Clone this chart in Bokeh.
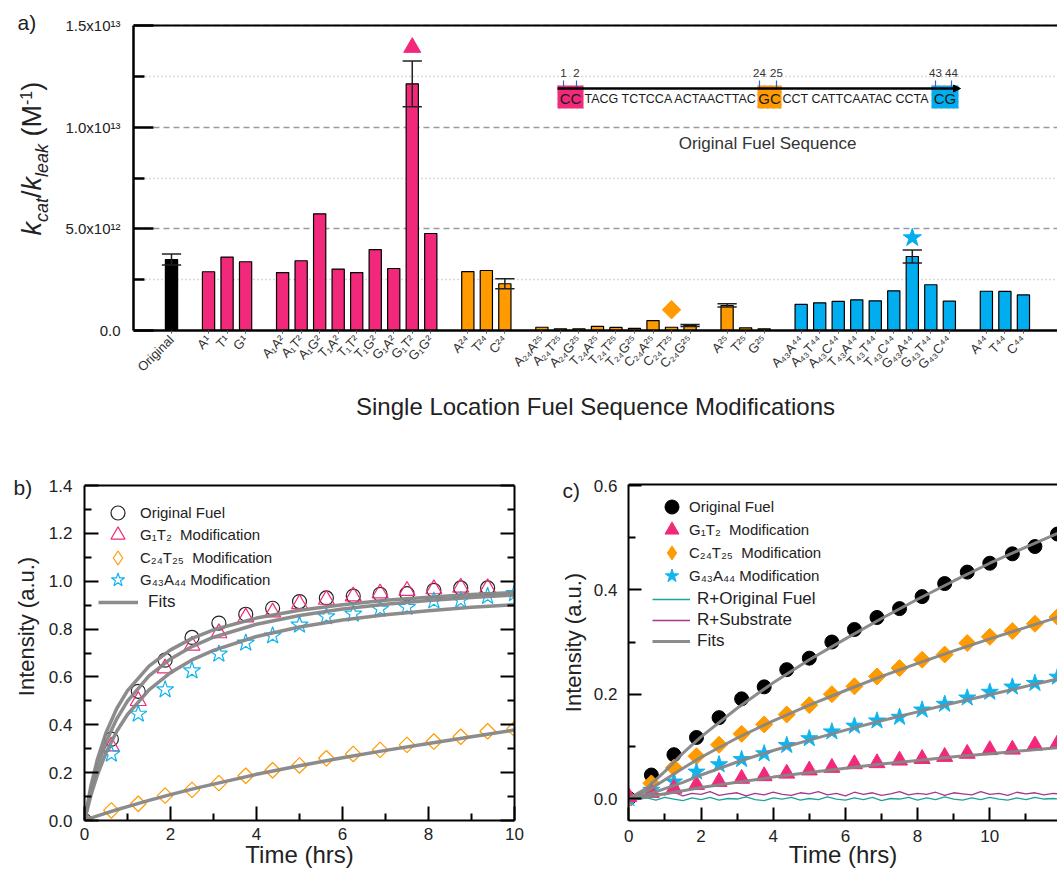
import math
from bokeh.plotting import figure
from bokeh.models import (Range1d, FixedTicker, LinearAxis, Label, Legend, LegendItem, Span,
                          ColumnDataSource, Arrow, NormalHead, BoxAnnotation, NumeralTickFormatter)
from bokeh.layouts import column, row
from bokeh.embed import file_html
from bokeh.resources import INLINE

FONT = "Liberation Sans"
TXT = "#222222"
PINK = "#F2297B"
ORANGE = "#FF9B00"
BLUE = "#00AEEF"
CYAN = "#12B4EE"
TEAL = "#1BA39C"
PURPLE = "#A23795"
GRAY = "#868686"
NAN = float("nan")

# ------------------------------------------------------------------ panel a data (values in 1e12 M^-1)
orig_labels = ["Original"]
orig_vals = [3.49]
g1_labels = ["A¹", "T¹", "G¹"]
g1_vals = [2.89, 3.61, 3.38]
g12_labels = ["A₁A²", "A₁T²", "A₁G²", "T₁A²", "T₁T²", "T₁G²", "G₁A²", "G₁T²", "G₁G²"]
g12_vals = [2.85, 3.43, 5.74, 3.02, 2.85, 3.98, 3.05, 12.13, 4.77]
g24_labels = ["A²⁴", "T²⁴", "C²⁴"]
g24_vals = [2.90, 2.95, 2.30]
g2425_labels = ["A₂₄A²⁵", "A₂₄T²⁵", "A₂₄G²⁵", "T₂₄A²⁵", "T₂₄T²⁵", "T₂₄G²⁵", "C₂₄A²⁵", "C₂₄T²⁵", "C₂₄G²⁵"]
g2425_vals = [0.16, 0.08, 0.08, 0.20, 0.15, 0.10, 0.49, 0.16, 0.25]
g25_labels = ["A²⁵", "T²⁵", "G²⁵"]
g25_vals = [1.23, 0.13, 0.08]
g4344_labels = ["A₄₃A⁴⁴", "A₄₃T⁴⁴", "A₄₃C⁴⁴", "T₄₃A⁴⁴", "T₄₃T⁴⁴", "T₄₃C⁴⁴", "G₄₃A⁴⁴", "G₄₃T⁴⁴", "G₄₃C⁴⁴"]
g4344_vals = [1.28, 1.36, 1.43, 1.51, 1.46, 1.95, 3.64, 2.25, 1.44]
g44_labels = ["A⁴⁴", "T⁴⁴", "C⁴⁴"]
g44_vals = [1.93, 1.92, 1.75]

err_labels = ["Original", "G₁T²", "C²⁴", "C₂₄G²⁵", "A²⁵", "G₄₃A⁴⁴"]
err_sizes = [0.27, 1.13, 0.25, 0.05, 0.08, 0.32]

hl_labels = ["G₁T²", "C₂₄T²⁵", "G₄₃A⁴⁴"]
hl_y = [13.92, 1.02, 4.56]

a_yticks = [0, 5, 10, 15]
a_yminor = [2.5, 7.5, 12.5]
a_ytick_text = ["0.0", "5.0x10¹²", "1.0x10¹³", "1.5x10¹³"]

seq_pieces = ["CC", "TACG TCTCCA ACTAACTTAC", "GC", "CCT CATTCAATAC CCTA", "CG"]
seq_numbers = ["1", "2", "24", "25", "43", "44"]

# ------------------------------------------------------------------ panel b data
t_b = [0, 0.625, 1.25, 1.875, 2.5, 3.125, 3.75, 4.375, 5.0, 5.625, 6.25, 6.875, 7.5, 8.125, 8.75, 9.375, 10.0]
b_orig = [0, 0.34, 0.54, 0.67, 0.765, 0.825, 0.862, 0.887, 0.915, 0.930, 0.938, 0.945, 0.948, 0.962, 0.972, 0.972]
b_g1t2 = [0, 0.31, 0.50, 0.636, 0.731, 0.783, 0.849, 0.870, 0.905, 0.923, 0.937, 0.950, 0.960, 0.967, 0.974, 0.971]
b_c24t25 = [0, 0.042, 0.07, 0.104, 0.128, 0.156, 0.187, 0.21, 0.23, 0.26, 0.278, 0.295, 0.316, 0.33, 0.35, 0.373, 0.383]
b_g43a44 = [0, 0.278, 0.445, 0.547, 0.626, 0.696, 0.742, 0.772, 0.817, 0.852, 0.863, 0.884, 0.891, 0.918, 0.921, 0.937, 0.949]

fit_t_b = [0, 0.15, 0.3, 0.5, 0.75, 1, 1.5, 2, 2.5, 3, 4, 5, 6, 7, 8, 9, 10]
fit_b_orig = [0, 0.146, 0.256, 0.367, 0.468, 0.543, 0.645, 0.713, 0.761, 0.797, 0.846, 0.879, 0.902, 0.920, 0.933, 0.944, 0.953]
fit_b_g1t2 = [0, 0.126, 0.225, 0.328, 0.425, 0.499, 0.604, 0.675, 0.727, 0.766, 0.820, 0.857, 0.884, 0.904, 0.919, 0.932, 0.942]
fit_b_g43a44 = [0, 0.106, 0.191, 0.283, 0.373, 0.443, 0.546, 0.618, 0.671, 0.711, 0.769, 0.809, 0.838, 0.860, 0.877, 0.891, 0.902]
fit_b_c24t25 = [0, 0.010, 0.019, 0.031, 0.045, 0.058, 0.084, 0.108, 0.131, 0.152, 0.193, 0.229, 0.262, 0.293, 0.322, 0.350, 0.378]

# ------------------------------------------------------------------ panel c data
t_c = [0, 0.625, 1.25, 1.875, 2.5, 3.125, 3.75, 4.375, 5.0, 5.625, 6.25, 6.875, 7.5, 8.125, 8.75,
       9.375, 10.0, 10.625, 11.25, 11.875]
c_orig = [0, 0.045, 0.084, 0.117, 0.155, 0.191, 0.214, 0.247, 0.269, 0.300, 0.324, 0.347, 0.364, 0.387,
          0.412, 0.434, 0.451, 0.469, 0.483, 0.507]
c_c24t25 = [0, 0.029, 0.059, 0.081, 0.103, 0.124, 0.142, 0.161, 0.179, 0.200, 0.215, 0.234, 0.250, 0.266,
            0.276, 0.298, 0.310, 0.321, 0.335, 0.348]
c_g43a44 = [0, 0.016, 0.032, 0.051, 0.065, 0.075, 0.086, 0.102, 0.115, 0.128, 0.139, 0.149, 0.156, 0.170,
            0.181, 0.193, 0.204, 0.214, 0.221, 0.233]
c_g1t2 = [0.003, 0.011, 0.019, 0.026, 0.032, 0.038, 0.043, 0.048, 0.054, 0.059, 0.066, 0.068, 0.073, 0.076,
          0.080, 0.086, 0.093, 0.094, 0.102, 0.105]

fit_t_c = [0, 0.5, 1, 1.5, 2, 3, 4, 5, 6, 7, 8, 9, 10, 11, 12]
fit_c_orig = [0, 0.020, 0.052, 0.087, 0.118, 0.173, 0.222, 0.266, 0.306, 0.345, 0.382, 0.417, 0.451, 0.482, 0.512]
fit_c_c24t25 = [0, 0.014, 0.036, 0.058, 0.079, 0.116, 0.149, 0.179, 0.207, 0.234, 0.259, 0.283, 0.306, 0.328, 0.350]
fit_c_g43a44 = [0, 0.007, 0.019, 0.031, 0.045, 0.070, 0.092, 0.112, 0.131, 0.149, 0.166, 0.183, 0.199, 0.215, 0.231]
fit_c_g1t2 = [0, 0.003, 0.009, 0.015, 0.021, 0.031, 0.041, 0.050, 0.058, 0.066, 0.073, 0.080, 0.086, 0.092, 0.098]

noise_t = [0, 0.25, 0.5, 0.75, 1, 1.25, 1.5, 1.75, 2, 2.25, 2.5, 2.75, 3, 3.25, 3.5, 3.75, 4, 4.25, 4.5, 4.75,
           5, 5.25, 5.5, 5.75, 6, 6.25, 6.5, 6.75, 7, 7.25, 7.5, 7.75, 8, 8.25, 8.5, 8.75, 9, 9.25, 9.5, 9.75,
           10, 10.25, 10.5, 10.75, 11, 11.25, 11.5, 11.75, 12]
noise_r_fuel = [0.000, -0.002, 0.001, -0.003, 0.002, -0.001, -0.004, 0.001, -0.002, 0.002, -0.003, 0.000, -0.001,
                0.003, -0.002, -0.004, 0.001, -0.001, 0.002, -0.003, 0.000, -0.002, 0.003, -0.001, -0.003, 0.001,
                -0.002, 0.002, -0.004, 0.000, -0.001, 0.002, -0.003, 0.001, -0.002, 0.003, -0.001, -0.003, 0.001,
                -0.002, 0.002, -0.001, -0.003, 0.001, -0.002, 0.002, -0.001, 0.000, -0.002]
noise_r_sub = [0.004, 0.009, 0.006, 0.011, 0.007, 0.012, 0.005, 0.010, 0.008, 0.013, 0.006, 0.009, 0.011, 0.005,
               0.010, 0.007, 0.012, 0.008, 0.006, 0.011, 0.009, 0.013, 0.007, 0.010, 0.005, 0.012, 0.008, 0.011,
               0.006, 0.009, 0.013, 0.007, 0.010, 0.008, 0.012, 0.006, 0.011, 0.009, 0.007, 0.013, 0.008, 0.010,
               0.006, 0.012, 0.009, 0.011, 0.007, 0.010, 0.008]


def style_axis(ax, width=2.5):
    ax.axis_line_width = width
    ax.axis_line_color = "black"
    ax.major_tick_line_width = width
    ax.minor_tick_line_width = width
    ax.major_tick_line_color = "black"
    ax.minor_tick_line_color = "black"
    ax.major_label_text_font = FONT
    ax.major_label_text_color = TXT
    ax.axis_label_text_font = FONT
    ax.axis_label_text_font_style = "normal"
    ax.axis_label_text_color = TXT


def lab(p, x, y, text, size, angle=0.0, align="left", baseline="middle", style="normal", color=TXT):
    p.add_layout(Label(x=x, y=y, text=text, angle=angle, text_align=align, text_baseline=baseline,
                       text_font=FONT, text_font_size=size, text_font_style=style, text_color=color))


class TextFig:
    """A narrow figure without axes that holds the texts left of a plot frame.
    Its frame is aligned by the row with the neighbouring plot (same top / bottom borders)."""
    def __init__(self, left, top, w, h, bt, bb):
        self.left = left
        self.fb = top + h - bb  # image y of frame bottom
        fh = h - bt - bb
        self.fig = figure(width=w, height=h, x_range=Range1d(0, w), y_range=Range1d(0, fh),
                          output_backend="svg", toolbar_location=None, title=None,
                          min_border_left=0, min_border_right=0, min_border_top=bt, min_border_bottom=bb,
                          x_axis_type=None, y_axis_type=None)
        self.fig.outline_line_color = None

    def text(self, img_x, img_y, text, size, **kw):
        lab(self.fig, img_x - self.left, self.fb - img_y, text, size, **kw)


def row_legend(p, label, rend, x, row_img_y, frame_bottom_img, gw, gh, standoff, fs):
    leg = Legend(items=[LegendItem(label=label, renderers=[rend])],
                 location=(x, frame_bottom_img - (row_img_y + gh / 2.0)),
                 glyph_width=gw, glyph_height=gh, label_height=gh, spacing=0,
                 label_standoff=standoff, padding=0, margin=0, border_line_color=None,
                 background_fill_alpha=0, label_text_font=FONT, label_text_font_size=fs,
                 label_text_color=TXT)
    p.add_layout(leg)


# ================================================================== panel a
A_X0, A_PX = 171.0, 18.52          # slot 0 at image x 171, 18.52 px per slot
A_Y0, A_PY = 330.0, 305.0 / 15.0   # y=0 at image y 330


def ax_(px):
    return (px - A_X0) / A_PX


def ay_(py):
    return (A_Y0 - py) / A_PY


groups = [
    (orig_labels, orig_vals, "#000000"),
    (g1_labels, g1_vals, PINK),
    (g12_labels, g12_vals, PINK),
    (g24_labels, g24_vals, ORANGE),
    (g2425_labels, g2425_vals, ORANGE),
    (g25_labels, g25_vals, ORANGE),
    (g4344_labels, g4344_vals, BLUE),
    (g44_labels, g44_vals, BLUE),
]
bx, btop, bcol, blab = [], [], [], []
pos = 0
for labels, vals, col in groups:
    for l, v in zip(labels, vals):
        bx.append(pos)
        btop.append(v)
        bcol.append(col)
        blab.append(l)
        pos += 1
    pos += 1
slot_of = dict(zip(blab, bx))
top_of = dict(zip(blab, btop))

TA = TextFig(0, 0, 55, 430, 0, 100)
pa = figure(width=1002, height=430, x_range=Range1d(ax_(133), ax_(1057)), y_range=Range1d(0, ay_(0)),
            output_backend="svg", toolbar_location=None, title=None,
            min_border_left=78, min_border_right=0, min_border_top=0, min_border_bottom=100)
pa.outline_line_color = None
pa.xgrid.grid_line_color = None

yax = pa.left[0]
style_axis(yax, 2.5)
yax.bounds = (0, 15)
yax.ticker = FixedTicker(ticks=a_yticks, minor_ticks=a_yminor)
yax.major_label_overrides = dict(zip(a_yticks, a_ytick_text))
yax.major_label_text_font_size = "15px"
yax.major_tick_in = 20
yax.major_tick_out = 0
yax.minor_tick_in = 11
yax.minor_tick_out = 0
yax.major_label_standoff = 13

pa.ygrid.grid_line_color = "#9a9a9a"
pa.ygrid.grid_line_dash = "6 4"
pa.ygrid.grid_line_width = 1.3
pa.ygrid.minor_grid_line_color = "#b5b5b5"
pa.ygrid.minor_grid_line_dash = "1 3"
pa.ygrid.minor_grid_line_width = 1.5

xax = pa.below[0]
style_axis(xax, 2.5)
xax.ticker = FixedTicker(ticks=bx)
xax.major_label_overrides = dict(zip(bx, blab))
xax.major_label_orientation = math.pi / 4
xax.major_label_text_font_size = "13px"
xax.major_label_text_color = "#333333"
xax.major_tick_in = 0
xax.major_tick_out = 3
xax.major_tick_line_width = 1
xax.major_tick_line_color = "#555555"
xax.minor_tick_line_color = None
xax.major_label_standoff = 4
xax.axis_label = "Single Location Fuel Sequence Modifications"
xax.axis_label_text_font_size = "24px"
xax.axis_label_standoff = 10

pa.add_layout(Span(location=15, dimension="width", line_color="black", line_width=2.0))

src_a = ColumnDataSource(dict(x=bx, top=btop, color=bcol))
pa.vbar(x="x", top="top", width=0.66, fill_color="color", line_color="black", line_width=1.2, source=src_a)

ex = [slot_of[l] for l in err_labels]
ehi = [top_of[l] + e for l, e in zip(err_labels, err_sizes)]
elo = [top_of[l] - e for l, e in zip(err_labels, err_sizes)]
src_e = ColumnDataSource(dict(x=ex, hi=ehi, lo=elo, xl=[x - 0.52 for x in ex], xr=[x + 0.52 for x in ex]))
pa.segment(x0="x", y0="lo", x1="x", y1="hi", source=src_e, line_color="#222222", line_width=1.5)
pa.segment(x0="xl", y0="hi", x1="xr", y1="hi", source=src_e, line_color="#222222", line_width=1.5)
pa.segment(x0="xl", y0="lo", x1="xr", y1="lo", source=src_e, line_color="#222222", line_width=1.5)

hl_x = [slot_of[l] for l in hl_labels]
pa.scatter([hl_x[0]], [hl_y[0]], marker="triangle", size=17, color=PINK)
pa.scatter([hl_x[1]], [hl_y[1]], marker="square", angle=math.pi / 4, size=13, color=ORANGE)
pa.scatter([hl_x[2]], [hl_y[2]], marker="star", size=19, color=BLUE)

# inset: original fuel sequence
box_px = [(557, 583, PINK), (757, 781, ORANGE), (931, 958, BLUE)]
for l, r, c in box_px:
    pa.add_layout(BoxAnnotation(left=ax_(l), right=ax_(r), bottom=ay_(108), top=ay_(85), fill_color=c,
                                fill_alpha=1.0, line_color="#8c8c8c", line_dash="dotted", line_width=1.5))
piece_px = [(570, "center", "15px"), (584, "left", "12.5px"), (769, "center", "15px"),
            (782, "left", "12.5px"), (944.5, "center", "15px")]
for (px, al, fs), txt in zip(piece_px, seq_pieces):
    lab(pa, ax_(px), ay_(98), txt, fs, align=al, color="#1a1a1a")
num_px = [563, 576, 759, 776, 935, 951]
for px, txt in zip(num_px, seq_numbers):
    lab(pa, ax_(px), ay_(72), txt, "11.5px", align="center", color="#333333")
    pa.add_layout(Arrow(x_start=ax_(px), y_start=ay_(80), x_end=ax_(px), y_end=ay_(89), end=None,
                        line_color="#3a5fcd", line_width=1.2))
pa.add_layout(Arrow(x_start=ax_(557), y_start=ay_(88), x_end=ax_(960), y_end=ay_(88),
                    end=NormalHead(size=7, fill_color="black", line_color="black"),
                    line_color="black", line_width=2.5))
lab(pa, ax_(767), ay_(143), "Original Fuel Sequence", "17px", align="center", color="#333333")

# panel a outer texts
TA.text(17, 22, "a)", "21px")
# y label k_cat / k_leak (M^-1), rotated; (text, size, style, centre-line x, start y)
ylab_pieces = [
    ("k", "27px", "italic", 31.5, 235.0),
    ("cat", "18px", "italic", 41.5, 221.5),
    ("/", "27px", "normal", 31.5, 197.5),
    ("k", "27px", "italic", 31.5, 190.0),
    ("leak", "18px", "italic", 41.5, 176.5),
    ("(M", "27px", "normal", 31.5, 136.0),
    ("-1", "16px", "normal", 25.0, 104.5),
    (")", "27px", "normal", 31.5, 90.3),
]
for txt, fs, st, cxp, syp in ylab_pieces:
    TA.text(cxp, syp, txt, fs, angle=math.pi / 2, align="left", baseline="middle", style=st)

# ================================================================== panel b
B_Y0, B_PY = 820.0, 335.0 / 1.4


def by_(py):
    return (B_Y0 - py) / B_PY


BOT = 53  # common bottom border of the lower row (frames end at image y 820)
TB = TextFig(0, 430, 42, 443, 0, BOT)
pb = figure(width=498, height=443, x_range=Range1d(0, 10), y_range=Range1d(0, by_(430)),
            output_backend="svg", toolbar_location=None, title=None,
            min_border_left=42, min_border_right=26, min_border_top=0, min_border_bottom=BOT)
pb.outline_line_color = None
pb.grid.grid_line_color = None
b_xt, b_xm = [0, 2, 4, 6, 8, 10], [1, 3, 5, 7, 9]
b_yt, b_ym = [0, 0.2, 0.4, 0.6, 0.8, 1.0, 1.2, 1.4], [0.1, 0.3, 0.5, 0.7, 0.9, 1.1, 1.3]
for axx, t, m in ((pb.below[0], b_xt, b_xm), (pb.left[0], b_yt, b_ym)):
    style_axis(axx, 2.0)
    axx.ticker = FixedTicker(ticks=t, minor_ticks=m)
    axx.major_label_text_font_size = "17px"
    axx.major_tick_in = 14
    axx.major_tick_out = 0
    axx.minor_tick_in = 7
    axx.minor_tick_out = 0
pb.left[0].bounds = (0, 1.4)
pb.left[0].formatter = NumeralTickFormatter(format="0.0")
pb.left[0].major_label_standoff = 12
pb.below[0].major_label_standoff = 7
pb.below[0].axis_label = "Time (hrs)"
pb.below[0].axis_label_text_font_size = "24px"
pb.below[0].axis_label_standoff = -2
rax = LinearAxis(ticker=FixedTicker(ticks=b_yt, minor_ticks=b_ym), bounds=(0, 1.4))
style_axis(rax, 2.0)
rax.major_label_text_font_size = "0px"
rax.major_label_text_color = None
rax.major_tick_in = 14
rax.major_tick_out = 0
rax.minor_tick_in = 7
rax.minor_tick_out = 0
pb.add_layout(rax, "right")
pb.add_layout(Span(location=1.4, dimension="width", line_color="black", line_width=2.0))

rb1 = pb.scatter(t_b[:len(b_orig)], b_orig, marker="circle", size=14, fill_color=None, line_color="#222222", line_width=1.2)
rb2 = pb.scatter(t_b[:len(b_g1t2)], b_g1t2, marker="triangle", size=16, fill_color=None, line_color=PINK, line_width=1.2)
rb3 = pb.scatter(t_b, b_c24t25, marker="square", angle=math.pi / 4, size=11, fill_color=None, line_color=ORANGE, line_width=1.2)
rb4 = pb.scatter(t_b, b_g43a44, marker="star", size=18, fill_color=None, line_color=CYAN, line_width=1.2)
rb3_key = pb.scatter(x=[NAN], y=[NAN], marker="diamond", fill_color=None, line_color=ORANGE, line_width=1.2)
rbf = None
for fy in (fit_b_orig, fit_b_g1t2, fit_b_g43a44, fit_b_c24t25):
    rbf = pb.line(fit_t_b, fy, line_color=GRAY, line_width=3.5, line_alpha=0.95)

for lbl, rend, yimg in (("Original Fuel", rb1, 512), ("G₁T₂  Modification", rb2, 534.5),
                        ("C₂₄T₂₅  Modification", rb3_key, 557), ("G₄₃A₄₄ Modification", rb4, 579.5)):
    row_legend(pb, lbl, rend, 16, yimg, 820, 35, 35, 5, "15px")
row_legend(pb, "Fits", rbf, 14, 602, 820, 40, 20, 10, "17px")

TB.text(13, 487, "b)", "21px")
TB.text(26, 626, "Intensity (a.u.)", "22px", angle=math.pi / 2, align="center")

# ================================================================== panel c
C_X0, C_PX = 628.3, 36.1
C_Y0, C_PY = 798.0, 313.0 / 0.6


def cx_(px):
    return (px - C_X0) / C_PX


def cy_(py):
    return (C_Y0 - py) / C_PY


TC = TextFig(540, 430, 47, 443, 0, BOT)
pc = figure(width=470, height=443, x_range=Range1d(cx_(628), cx_(1057)), y_range=Range1d(cy_(820), cy_(430)),
            output_backend="svg", toolbar_location=None, title=None,
            min_border_left=41, min_border_right=0, min_border_top=0, min_border_bottom=BOT)
pc.outline_line_color = None
pc.grid.grid_line_color = None
c_xt, c_xm = [0, 2, 4, 6, 8, 10, 12], [1, 3, 5, 7, 9, 11]
c_yt, c_ym = [0, 0.2, 0.4, 0.6], [0.1, 0.3, 0.5]
for axx, t, m in ((pc.below[0], c_xt, c_xm), (pc.left[0], c_yt, c_ym)):
    style_axis(axx, 2.0)
    axx.ticker = FixedTicker(ticks=t, minor_ticks=m)
    axx.major_label_text_font_size = "17px"
    axx.major_tick_in = 13
    axx.major_tick_out = 0
    axx.minor_tick_in = 7
    axx.minor_tick_out = 0
pc.left[0].bounds = (cy_(820), cy_(484))
pc.left[0].formatter = NumeralTickFormatter(format="0.0")
pc.left[0].major_label_standoff = 11
pc.below[0].major_label_standoff = 9
pc.below[0].axis_label = "Time (hrs)"
pc.below[0].axis_label_text_font_size = "24px"
pc.below[0].axis_label_standoff = -4
pc.add_layout(Span(location=cy_(484), dimension="width", line_color="black", line_width=2.0))

rn1 = pc.line(noise_t, noise_r_fuel, line_color=TEAL, line_width=1.3)
rn2 = pc.line(noise_t, noise_r_sub, line_color=PURPLE, line_width=1.3)
rc1 = pc.scatter(t_c, c_orig, marker="circle", size=14, color="black")
rc3 = pc.scatter(t_c, c_c24t25, marker="square", angle=math.pi / 4, size=12, color=ORANGE)
rc4 = pc.scatter(t_c, c_g43a44, marker="star", size=18, color=CYAN)
rc2 = pc.scatter(t_c, c_g1t2, marker="triangle", size=16, color=PINK)
rc3_key = pc.scatter(x=[NAN], y=[NAN], marker="diamond", color=ORANGE)
rcf = None
for fy in (fit_c_orig, fit_c_c24t25, fit_c_g43a44, fit_c_g1t2):
    rcf = pc.line(fit_t_c, fy, line_color=GRAY, line_width=3.0, line_alpha=0.95)

for lbl, rend, yimg in (("Original Fuel", rc1, 506), ("G₁T₂  Modification", rc2, 529),
                        ("C₂₄T₂₅  Modification", rc3_key, 552), ("G₄₃A₄₄ Modification", rc4, 575)):
    row_legend(pc, lbl, rend, 26, yimg, 820, 35, 35, 0, "15px")
for lbl, rend, yimg in (("R+Original Fuel", rn1, 599), ("R+Substrate", rn2, 620), ("Fits", rcf, 641)):
    row_legend(pc, lbl, rend, 24, yimg, 820, 38, 20, 7, "17px")

TC.text(562, 490, "c)", "21px")
TC.text(573, 642, "Intensity (a.u.)", "22px", angle=math.pi / 2, align="center")

layout = column(row(TA.fig, pa), row(TB.fig, pb, TC.fig, pc))
open("out.html", "w").write(file_html(layout, INLINE))
